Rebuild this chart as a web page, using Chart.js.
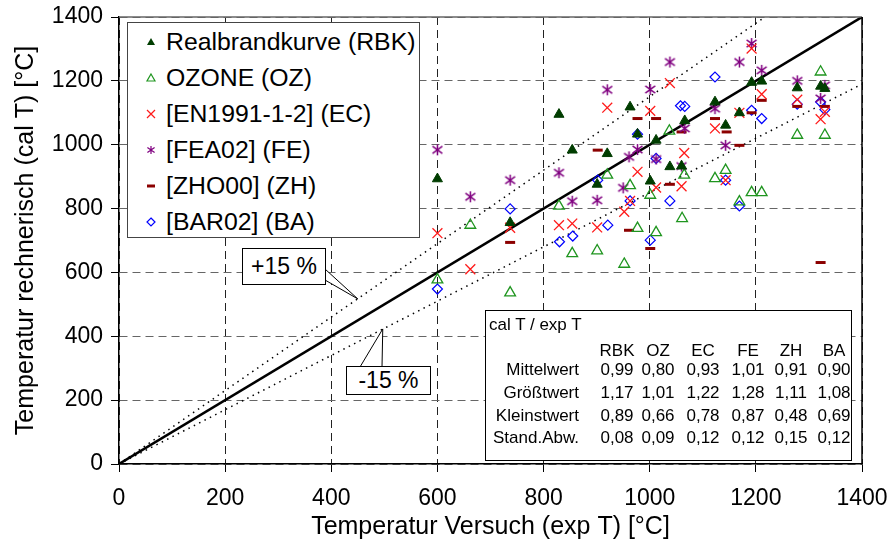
<!DOCTYPE html>
<html lang="de">
<head>
<meta charset="UTF-8">
<title>cal T / exp T</title>
<script src="https://cdn.jsdelivr.net/npm/chart.js@4"></script>
<style>
  * { margin: 0; padding: 0; box-sizing: border-box; }
  body { background: #fff; font-family: 'Liberation Sans', Arial, sans-serif; }
  #wrap { position: relative; width: 892px; height: 544px; }
  #legend {
    position: absolute; left: 127px; top: 22px; width: 293px; height: 216px;
    background: #fff; border: 1px solid #444;
  }
  .lg { position: absolute; left: 0; height: 30px; line-height: 30px; font-size: 24.8px; color: #000; white-space: nowrap; }
  .lg canvas { position: absolute; left: 17px; top: 9px; }
  .lg span { position: absolute; left: 38px; }
  #stats {
    position: absolute; left: 485px; top: 310px; width: 367px; height: 151px;
    background: #fff; border: 1.5px solid #000;
  }
  .st { position: absolute; font-size: 17px; line-height: 20px; color: #000; white-space: nowrap; }
  .note {
    position: absolute; background: #fff; border: 1px solid #000;
    font-size: 23px; line-height: 34px; text-align: center; color: #000;
  }
</style>
</head>
<body>
<div id="wrap">
  <canvas id="chart" width="892" height="544"></canvas>
  <div id="legend"></div>
  <div id="stats"></div>
  <div class="note" style="left:242px;top:248px;width:84px;height:37px;">+15 %</div>
  <div class="note" style="left:346px;top:366px;width:85px;height:29px;line-height:27px;">-15 %</div>
</div>
<script>
// Messwerte: x = Temperatur Versuch, y = Temperatur rechnerisch
const rbkX = [600, 737, 829, 854, 901, 920, 963, 977, 1001, 1012, 1038, 1060, 1066, 1123, 1143, 1169, 1192, 1211, 1278, 1322, 1330];
const rbkY = [893, 756, 1095, 983, 876, 972, 1118, 1033, 886, 1014, 931, 933, 1075, 1134, 1061, 1100, 1195, 1199, 1178, 1183, 1176];

const ozX = [600, 662, 737, 829, 854, 901, 920, 952, 963, 977, 1001, 1012, 1037, 1061, 1065, 1123, 1143, 1169, 1192, 1211, 1278, 1322, 1330];
const ozY = [577, 748, 536, 808, 659, 668, 905, 626, 872, 738, 842, 725, 1043, 769, 905, 894, 920, 821, 850, 850, 1030, 1228, 1030];

const ecX = [600, 662, 737, 829, 854, 901, 920, 952, 963, 977, 1001, 1012, 1038, 1060, 1065, 1123, 1143, 1169, 1192, 1211, 1278, 1322, 1330];
const ecY = [723, 610, 740, 748, 753, 741, 1116, 790, 824, 915, 1106, 866, 1193, 870, 974, 1051, 889, 1100, 1301, 1158, 1141, 1080, 1103];

const feX = [600, 662, 737, 829, 854, 901, 920, 950, 961, 977, 1001, 1012, 1038, 1060, 1066, 1123, 1143, 1169, 1192, 1211, 1278, 1322, 1330];
const feY = [984, 837, 889, 912, 823, 826, 1172, 865, 962, 985, 1173, 955, 1259, 933, 1051, 1113, 998, 1259, 1317, 1233, 1200, 1145, 1186];

const zhX = [737, 902, 961, 977, 1001, 1012, 1038, 1060, 1123, 1145, 1169, 1192, 1211, 1278, 1322, 1330];
const zhY = [694, 983, 732, 1082, 675, 1082, 876, 1040, 1082, 1040, 998, 1100, 1139, 1120, 631, 1120];

const baX = [600, 737, 830, 855, 902, 921, 963, 977, 1001, 1012, 1038, 1058, 1066, 1123, 1143, 1169, 1192, 1211, 1278, 1322, 1330];
const baY = [548, 799, 696, 714, 889, 748, 824, 1033, 701, 957, 824, 1122, 1120, 1212, 889, 808, 1108, 1082, 1127, 1134, 1110];

// Vergleichslinien (cal T = exp T, +15 %, -15 %)
const lineMid = [{x: 0, y: 0}, {x: 1400, y: 1400}];
const linePlus = [{x: 0, y: 0}, {x: 1217, y: 1400}];
const lineMinus = [{x: 0, y: 0}, {x: 1400, y: 1190}];

const axisTicks = [0, 200, 400, 600, 800, 1000, 1200, 1400];

// Tabelle cal T / exp T
const statCols = ['RBK', 'OZ', 'EC', 'FE', 'ZH', 'BA'];
const statRows = ['Mittelwert', 'Größtwert', 'Kleinstwert', 'Stand.Abw.'];
const statVals = [
  ['0,99', '0,80', '0,93', '1,01', '0,91', '0,90'],
  ['1,17', '1,01', '1,22', '1,28', '1,11', '1,08'],
  ['0,89', '0,66', '0,78', '0,87', '0,48', '0,69'],
  ['0,08', '0,09', '0,12', '0,12', '0,15', '0,12']
];

const seriesNames = ['Realbrandkurve (RBK)', 'OZONE (OZ)', '[EN1991-1-2] (EC)', '[FEA02] (FE)', '[ZHO00] (ZH)', '[BAR02] (BA)'];

function pts(xs, ys) { return xs.map((x, i) => ({x: x, y: ys[i]})); }

function drawMarker(ctx, kind, cx, cy, s, lw) {
  ctx.save();
  ctx.lineWidth = lw || 1.2;
  if (kind === 'rbk') {
    ctx.fillStyle = '#003d00';
    ctx.beginPath();
    ctx.moveTo(cx, cy - s); ctx.lineTo(cx + s, cy + s * 0.75); ctx.lineTo(cx - s, cy + s * 0.75);
    ctx.closePath(); ctx.fill();
  } else if (kind === 'oz') {
    ctx.strokeStyle = '#1f951f';
    ctx.beginPath();
    ctx.moveTo(cx, cy - s); ctx.lineTo(cx + s, cy + s * 0.75); ctx.lineTo(cx - s, cy + s * 0.75);
    ctx.closePath(); ctx.stroke();
  } else if (kind === 'ec') {
    ctx.strokeStyle = '#ff1a1a';
    ctx.beginPath();
    ctx.moveTo(cx - s, cy - s); ctx.lineTo(cx + s, cy + s);
    ctx.moveTo(cx + s, cy - s); ctx.lineTo(cx - s, cy + s);
    ctx.stroke();
  } else if (kind === 'fe') {
    // Sternchen mit 6 Strahlen
    ctx.strokeStyle = '#800080';
    ctx.beginPath();
    ctx.moveTo(cx, cy - s); ctx.lineTo(cx, cy + s);
    ctx.moveTo(cx - s * 0.9, cy - s * 0.65); ctx.lineTo(cx + s * 0.9, cy + s * 0.65);
    ctx.moveTo(cx + s * 0.9, cy - s * 0.65); ctx.lineTo(cx - s * 0.9, cy + s * 0.65);
    ctx.stroke();
  } else if (kind === 'zh') {
    ctx.strokeStyle = '#8b0000';
    ctx.lineWidth = 3;
    ctx.beginPath();
    ctx.moveTo(cx - s, cy); ctx.lineTo(cx + s, cy);
    ctx.stroke();
  } else if (kind === 'ba') {
    ctx.strokeStyle = '#0000ff';
    ctx.beginPath();
    ctx.moveTo(cx, cy - s); ctx.lineTo(cx + s, cy); ctx.lineTo(cx, cy + s); ctx.lineTo(cx - s, cy);
    ctx.closePath(); ctx.stroke();
  }
  ctx.restore();
}

const starImg = document.createElement('canvas');
starImg.width = 13; starImg.height = 13;
drawMarker(starImg.getContext('2d'), 'fe', 6.5, 6.5, 5.5, 1.5);

// Legende
const legendKinds = ['rbk', 'oz', 'ec', 'fe', 'zh', 'ba'];
const legendEl = document.getElementById('legend');
legendKinds.forEach((k, i) => {
  const row = document.createElement('div');
  row.className = 'lg';
  row.style.top = (4 + i * 35.9) + 'px';
  const c = document.createElement('canvas');
  c.width = 12; c.height = 12;
  drawMarker(c.getContext('2d'), k, 6, 6, 4, 1.2);
  const t = document.createElement('span');
  t.textContent = seriesNames[i];
  row.appendChild(c); row.appendChild(t);
  legendEl.appendChild(row);
});

// Tabelle
const statsEl = document.getElementById('stats');
const colCenter = [131, 172, 217, 262, 305, 348];
const rowTop = [48.5, 71.5, 94.5, 116.5];
function cell(txt, left, top, align, w) {
  const d = document.createElement('div');
  d.className = 'st';
  d.textContent = txt;
  d.style.top = top + 'px';
  d.style.left = left + 'px';
  d.style.width = w + 'px';
  d.style.textAlign = align;
  statsEl.appendChild(d);
}
cell('cal T / exp T', 3, 3.5, 'left', 150);
statCols.forEach((c, j) => cell(c, colCenter[j] - 25, 29.5, 'center', 50));
statRows.forEach((r, i) => {
  cell(r, 0, rowTop[i], 'right', 93);
  statVals[i].forEach((v, j) => cell(v, colCenter[j] - 25, rowTop[i], 'center', 50));
});

const framePlugin = {
  id: 'frame',
  afterDraw(chart) {
    const {ctx, chartArea: a, scales} = chart;
    ctx.save();
    ctx.lineWidth = 1.5;
    ctx.strokeStyle = '#666';
    ctx.beginPath(); ctx.moveTo(a.left, a.top); ctx.lineTo(a.right, a.top); ctx.stroke();
    ctx.strokeStyle = '#000';
    ctx.beginPath(); ctx.moveTo(a.right, a.top); ctx.lineTo(a.right, a.bottom); ctx.stroke();
    // Zeiger der Beschriftungen
    ctx.lineWidth = 1;
    ctx.fillStyle = '#fff';
    const tp = {x: scales.x.getPixelForValue(450), y: scales.y.getPixelForValue(517)};
    ctx.beginPath(); ctx.moveTo(325, 269); ctx.lineTo(tp.x, tp.y); ctx.lineTo(325, 280); ctx.closePath(); ctx.fill();
    ctx.beginPath(); ctx.moveTo(325, 269); ctx.lineTo(tp.x, tp.y); ctx.lineTo(325, 280); ctx.stroke();
    const tm = {x: scales.x.getPixelForValue(497), y: scales.y.getPixelForValue(423)};
    ctx.beginPath(); ctx.moveTo(360, 367); ctx.lineTo(tm.x, tm.y); ctx.lineTo(382, 367); ctx.closePath(); ctx.fill();
    ctx.beginPath(); ctx.moveTo(360, 367); ctx.lineTo(tm.x, tm.y); ctx.lineTo(382, 367); ctx.stroke();
    ctx.restore();
  }
};

const tickFont = {family: "'Liberation Sans', Arial, sans-serif", size: 23};
const titleFont = {family: "'Liberation Sans', Arial, sans-serif", size: 25};

new Chart(document.getElementById('chart'), {
  type: 'scatter',
  data: {
    datasets: [
      {label: 'mid', type: 'line', data: lineMid, borderColor: '#000', borderWidth: 2.5, pointRadius: 0, order: 10},
      {label: 'plus', type: 'line', data: linePlus, borderColor: '#000', borderWidth: 1.5, borderDash: [1.5, 4.5], pointRadius: 0, order: 10},
      {label: 'minus', type: 'line', data: lineMinus, borderColor: '#000', borderWidth: 1.5, borderDash: [1.5, 4.5], pointRadius: 0, order: 10},
      {label: seriesNames[0], data: pts(rbkX, rbkY), pointStyle: 'triangle', radius: 5.8, backgroundColor: '#003d00', borderColor: '#003d00', borderWidth: 1},
      {label: seriesNames[1], data: pts(ozX, ozY), pointStyle: 'triangle', radius: 6.2, backgroundColor: 'rgba(0,0,0,0)', borderColor: '#1f951f', borderWidth: 1.3},
      {label: seriesNames[2], data: pts(ecX, ecY), pointStyle: 'crossRot', radius: 7, borderColor: '#ff1a1a', borderWidth: 1.3},
      {label: seriesNames[3], data: pts(feX, feY), pointStyle: starImg, radius: 6},
      {label: seriesNames[4], data: pts(zhX, zhY), pointStyle: 'line', radius: 5, borderColor: '#8b0000', borderWidth: 3},
      {label: seriesNames[5], data: pts(baX, baY), pointStyle: 'rectRot', radius: 5, backgroundColor: 'rgba(0,0,0,0)', borderColor: '#0000ff', borderWidth: 1.2}
    ]
  },
  options: {
    responsive: false,
    animation: false,
    devicePixelRatio: 1,
    layout: {padding: {left: 0, top: 17, right: 30, bottom: 0}},
    plugins: {legend: {display: false}, tooltip: {enabled: false}},
    scales: {
      x: {
        type: 'linear', min: 0, max: 1400,
        afterBuildTicks: s => { s.ticks = axisTicks.map(v => ({value: v})); },
        afterFit: s => { s.height = 80; s.paddingLeft = 0; s.paddingRight = 0; },
        ticks: {font: tickFont, color: '#000', padding: 13, maxRotation: 0, callback: v => String(v)},
        grid: {color: '#222', lineWidth: 1, tickLength: 8, tickColor: '#000', tickBorderDash: []},
        border: {color: '#000', width: 1.5, dash: [8, 5]},
        title: {display: true, text: 'Temperatur Versuch (exp T) [°C]', font: titleFont, color: '#000', padding: {top: 0, bottom: 2}}
      },
      y: {
        type: 'linear', min: 0, max: 1400,
        afterBuildTicks: s => { s.ticks = axisTicks.map(v => ({value: v})); },
        afterFit: s => { s.width = 119; s.paddingTop = 0; s.paddingBottom = 0; },
        ticks: {font: tickFont, color: '#000', padding: 8, callback: v => String(v)},
        grid: {color: '#666', lineWidth: 1, tickLength: 8, tickColor: '#000', tickBorderDash: []},
        border: {color: '#000', width: 1.5, dash: [8, 5]},
        title: {display: true, text: 'Temperatur rechnerisch (cal T) [°C]', font: titleFont, color: '#000', padding: {top: 11, bottom: 0}}
      }
    }
  },
  plugins: [framePlugin]
});
</script>
</body>
</html>
